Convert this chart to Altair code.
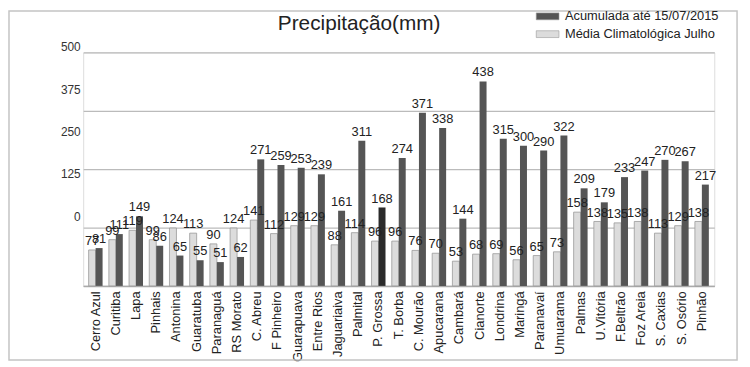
import altair as alt
import pandas as pd

stations = ["Cerro Azul", "Curitiba", "Lapa", "Pinhais", "Antonina", "Guaratuba",
            "Paranaguá", "RS Morato", "C. Abreu", "F Pinheiro", "Guarapuava",
            "Entre Rios", "Jaguariaiva", "Palmital", "P. Grossa", "T. Borba",
            "C. Mourão", "Apucarana", "Cambará", "Cianorte", "Londrina", "Maringá",
            "Paranavaí", "Umuarama", "Palmas", "U.Vitória", "F.Beltrão", "Foz Areia",
            "S. Caxias", "S. Osório", "Pinhão"]
media = [77, 99, 119, 99, 124, 113, 90, 124, 141, 112, 129, 129, 88, 114, 96, 96,
         76, 70, 53, 68, 69, 56, 65, 73, 158, 138, 135, 138, 113, 129, 138]
acumulada = [81, 111, 149, 86, 65, 55, 51, 62, 271, 259, 253, 239, 161, 311, 168, 274,
             371, 338, 144, 438, 315, 300, 290, 322, 209, 179, 233, 247, 270, 267, 217]

TITLE = "Precipitação(mm)"
S_ACUM = "Acumulada até 15/07/2015"
S_MED = "Média Climatológica Julho"
y_ticks = [0, 125, 250, 375, 500]
y_label_shift = [-70, -55, -38, -21, -6]

rows = []
for s, m, a in zip(stations, media, acumulada):
    rows.append({"estacao": s, "serie": S_MED, "valor": m})
    rows.append({"estacao": s, "serie": S_ACUM, "valor": a})
df = pd.DataFrame(rows)

W, H = 638, 236
FONT = "Liberation Sans"

x = alt.X("estacao:N", sort=stations,
          scale=alt.Scale(paddingInner=0.31, paddingOuter=0.27),
          axis=alt.Axis(title=None, labelAngle=270, labelAlign="right",
                        labelBaseline="middle", labelFontSize=13, labelColor="#222",
                        labelFont=FONT, labelPadding=5, domainColor="#aaaaaa",
                        domainWidth=1.5, ticks=False))
xoff = alt.XOffset("serie:N", sort=[S_MED, S_ACUM], scale=alt.Scale(paddingInner=0))
y = alt.Y("valor:Q", scale=alt.Scale(domain=[0, 500], nice=False),
          axis=alt.Axis(title=None, values=y_ticks, grid=True, gridColor="#bbbbbb",
                        gridWidth=1.2, domain=False, ticks=False, labelFontSize=12,
                        labelColor="#333", labelFont=FONT, labelPadding=3,
                        labelOffset={"condition": [
                            {"test": f"datum.value == {v}", "value": o}
                            for v, o in zip(y_ticks, y_label_shift)], "value": -6}))

color = alt.Color("serie:N", scale=alt.Scale(domain=[S_ACUM, S_MED],
                                             range=["#555555", "#dcdcdc"]),
                  legend=alt.Legend(title=None, orient="none", legendX=463, legendY=-43,
                                    symbolType="M-2,-0.6L2,-0.6L2,0.6L-2,0.6Z",
                                    symbolSize=132, labelOffset=11, labelFontSize=13,
                                    labelFont=FONT, labelColor="#222", rowPadding=4,
                                    padding=0, symbolStrokeColor="#999",
                                    symbolStrokeWidth=0.6, symbolOpacity=1))

fill = alt.condition(f"datum.estacao == 'P. Grossa' && datum.serie == '{S_ACUM}'",
                     alt.value("#2b2b2b"), color)

bars = alt.Chart(df).mark_bar(stroke="#999999").encode(
    x=x, xOffset=xoff, y=y, fill=fill,
    strokeWidth=alt.condition(f"datum.serie == '{S_MED}'", alt.value(0.8), alt.value(0)),
)

labels = alt.Chart(df).mark_text(dy=-9, fontSize=13, font=FONT, color="#222").encode(
    x=alt.X("estacao:N", sort=stations), xOffset=alt.XOffset("serie:N", sort=[S_MED, S_ACUM]),
    y="valor:Q", text="valor:Q")

border = alt.Chart(pd.DataFrame({"a": [0]})).mark_rect(
    fill="transparent", stroke="#c4c4c4", strokeWidth=1.5).encode(
    x=alt.value(-75), x2=alt.value(W + 23), y=alt.value(-42), y2=alt.value(H + 75))

title = alt.Chart(pd.DataFrame({"t": [TITLE]})).mark_text(
    fontSize=21, font=FONT, color="#222", align="center", baseline="alphabetic").encode(
    x=alt.value(279), y=alt.value(-23), text="t:N")

chart = alt.layer(border, bars, labels, title).properties(
    width=W, height=H,
    autosize=alt.AutoSizeParams(type="none"),
    padding={"left": 76, "top": 43, "right": 28, "bottom": 76},
).configure_view(stroke=None).configure(background="white")

chart.save("out.html", embed_options={"renderer": "svg", "actions": False})
